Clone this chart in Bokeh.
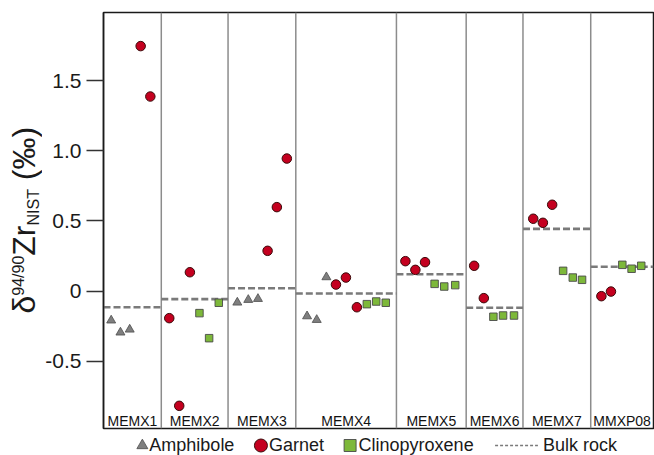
import math
from bokeh.plotting import figure
from bokeh.models import Span, FixedTicker
from bokeh.layouts import column, row
from bokeh.embed import file_html
from bokeh.resources import INLINE
from bokeh.core.properties import value

# ---------------- data ----------------
samples = ["MEMX1", "MEMX2", "MEMX3", "MEMX4", "MEMX5", "MEMX6", "MEMX7", "MMXP08"]
panel_edges = [0, 58, 125, 193, 294, 364, 421, 489, 552]
bulk_rock = [-0.116, -0.058, 0.02, -0.018, 0.12, -0.12, 0.444, 0.173]

amph_x = [7.7, 17, 26.3, 134.3, 145.3, 155, 204.3, 214, 223.7]
amph_y = [-0.21, -0.296, -0.275, -0.082, -0.063, -0.056, -0.18, -0.206, 0.099]

garnet_x = [37.3, 47, 66, 76, 86.7, 164.7, 174, 184, 233.3, 243.3, 254.3,
            303, 313, 322.7, 372, 381.7, 431.3, 441, 450.3, 499.7, 509.3]
garnet_y = [1.749, 1.389, -0.194, -0.82, 0.134, 0.287, 0.599, 0.946, 0.046, 0.096, -0.116,
            0.213, 0.151, 0.206, 0.18, -0.051, 0.516, 0.487, 0.616, -0.037, -0.004]

cpx_x = [96.3, 106, 115.7, 264.3, 273.7, 283.3, 332.3, 342, 353,
         391.3, 401, 412, 461.3, 471, 480.3, 520.7, 530, 539.7]
cpx_y = [-0.158, -0.337, -0.084, -0.094, -0.075, -0.084, 0.051, 0.032, 0.042,
         -0.184, -0.175, -0.175, 0.144, 0.096, 0.08, 0.187, 0.159, 0.18]

y_ticks = [-0.5, 0, 0.5, 1.0, 1.5]
y_tick_labels = ["-0.5", "0", "0.5", "1.0", "1.5"]

legend_labels = ["Amphibole", "Garnet", "Clinopyroxene", "Bulk rock"]

# ---------------- styles / geometry ----------------
FONT = "Liberation Sans"
X0, X1 = 0, 552
Y0, Y1 = -0.982, 1.989
TW = 42                      # width of the title strip
W, H = 654 - TW, 430
BL, BR, BT, BB = 59, 1, 12, 2
PX_PER_Y = (H - BT - BB) / (Y1 - Y0)
MID = 0.35                   # baseline-to-anchor offset of rendered text, in em

AMPH = dict(marker="triangle", fill_color="#7f7f7f", line_color="#4d4d4d", line_width=0.8)
GRT = dict(marker="circle", fill_color="#c4001f", line_color="#3b0a0a", line_width=1)
CPX = dict(marker="square", fill_color="#7db83a", line_color="#4a4a4a", line_width=0.9)
BULK_COLOR = "#7a7a7a"

# ---------------- main chart ----------------
p = figure(width=W, height=H, x_range=(X0, X1), y_range=(Y0, Y1),
           output_backend="svg", toolbar_location=None, x_axis_location=None,
           min_border_left=BL, min_border_right=BR, min_border_top=BT, min_border_bottom=BB)
p.xgrid.visible = False
p.ygrid.visible = False
p.outline_line_color = "#1a1a1a"
p.outline_line_width = 1.5

ax = p.yaxis[0]
ax.ticker = FixedTicker(ticks=y_ticks)
ax.major_label_overrides = dict(zip(y_ticks, y_tick_labels))
ax.minor_tick_line_color = None
ax.major_tick_in = 0
ax.major_tick_out = 17
ax.major_tick_line_width = 1.5
ax.major_tick_line_color = "#333333"
ax.axis_line_color = "#1a1a1a"
ax.axis_line_width = 1.5
ax.major_label_standoff = 5
ax.major_label_text_font = FONT
ax.major_label_text_font_size = "21px"
ax.major_label_text_color = "#1a1a1a"

for e in panel_edges[1:-1]:
    p.add_layout(Span(location=e, dimension="height", line_color="#8c8c8c",
                      line_width=1.5, level="underlay"))

p.segment(x0=panel_edges[:-1], x1=panel_edges[1:], y0=bulk_rock, y1=bulk_rock,
          line_color=BULK_COLOR, line_width=2.6, line_dash="7 3")

p.scatter(amph_x, amph_y, size=9, **AMPH)
p.scatter(garnet_x, garnet_y, size=9.5, **GRT)
p.scatter(cpx_x, cpx_y, size=7.5, **CPX)

mids = [(a + b) / 2 for a, b in zip(panel_edges[:-1], panel_edges[1:])]
p.text(x=mids, y=[Y0 + (3 + MID * 14) / PX_PER_Y] * len(samples), text=samples,
       text_align="center", text_baseline="alphabetic", text_font=value(FONT),
       text_font_size="14px", text_color="#111111")

# ---------------- y title strip ----------------
t = figure(width=TW, height=H, x_range=(0, TW), y_range=p.y_range,
           output_backend="svg", toolbar_location=None,
           x_axis_location=None, y_axis_location=None,
           min_border_left=0, min_border_right=0, min_border_top=BT, min_border_bottom=BB)
t.outline_line_color = None
t.xgrid.visible = False
t.ygrid.visible = False

BIG, SMALL = 32, 16
adv = {"δ": 0.556, "9": 0.556, "4": 0.556, "/": 0.278, "0": 0.556, "Z": 0.611,
       "r": 0.333, "N": 0.722, "I": 0.278, "S": 0.667, "T": 0.611, " ": 0.278,
       "(": 0.333, "‰": 1.0, ")": 0.333}
# (text, font size, x of baseline in px)
pieces = [("δ", BIG, 35), ("94/90", SMALL, 23.5), ("Zr", BIG, 35),
          ("NIST", SMALL, 38.5), (" ", BIG, None), ("(‰)", BIG, 35)]
ypos = -0.161
for txt, fs, bx in pieces:
    if bx is not None:
        t.text(x=[bx - MID * fs], y=[ypos], text=[txt], angle=math.pi / 2,
               text_font=value(FONT), text_font_size=f"{fs}px",
               text_align="left", text_baseline="alphabetic", text_color="#1a1a1a")
    ypos += sum(adv[c] for c in txt) * fs / PX_PER_Y

# ---------------- legend row ----------------
LH = 25
lg = figure(width=W, height=LH, x_range=(X0, X1), y_range=(0, LH),
            output_backend="svg", toolbar_location=None,
            x_axis_location=None, y_axis_location=None,
            min_border_left=BL, min_border_right=BR, min_border_top=0, min_border_bottom=0)
lg.outline_line_color = None
lg.xgrid.visible = False
lg.ygrid.visible = False
my = 10
lg.scatter([39], [my], size=11, **AMPH)
lg.scatter([158], [my], size=13, **GRT)
lg.scatter([247.5], [my], size=12, **CPX)
lg.segment(x0=[393], x1=[436], y0=[my], y1=[my], line_color=BULK_COLOR,
           line_width=1.6, line_dash="3 2")
lg.text(x=[46, 166, 256, 441], y=[4 + MID * 18] * 4, text=legend_labels,
        text_align="left", text_baseline="alphabetic", text_font=value(FONT),
        text_font_size="18px", text_color="#1a1a1a")

layout = row(t, column(p, lg, spacing=0), spacing=0)
open("out.html", "w").write(file_html(layout, INLINE))
